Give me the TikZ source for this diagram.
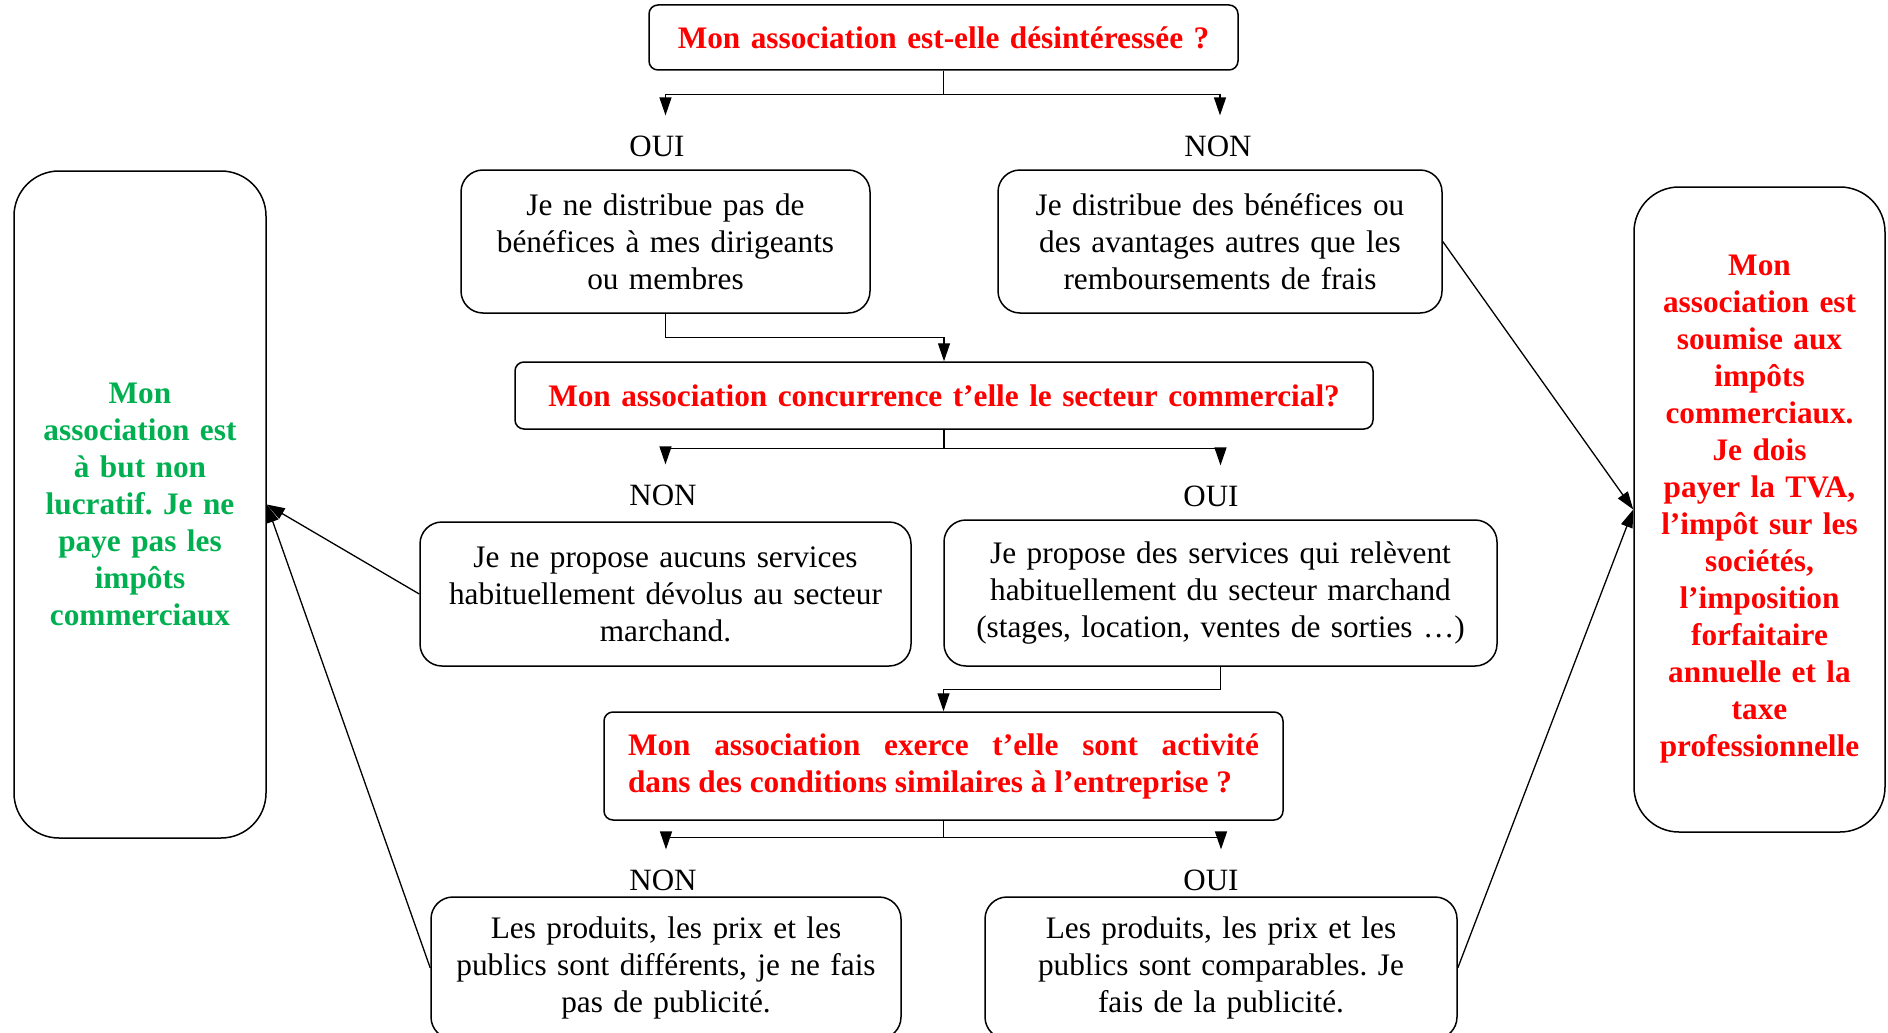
\documentclass[tikz,border=0pt]{standalone}
\usepackage{fontspec}
\setmainfont{Liberation Serif}
\usetikzlibrary{arrows.meta}
\definecolor{qred}{RGB}{255,0,0}
\definecolor{okgreen}{RGB}{0,176,80}
\frenchspacing

\begin{document}
\begin{tikzpicture}[>={Triangle[width=12pt,length=18pt]}, x=1pt, y=-1pt,
    box/.style={draw, line width=1.5pt, rounded corners=22pt, inner sep=0pt, align=center,
        font=\fontsize{31.3}{37}\selectfont},
    qbox/.style={box, rounded corners=9pt, text=qred, font=\fontsize{31.3}{37}\selectfont\bfseries},
    side/.style={box, rounded corners=45pt, font=\fontsize{31.3}{37}\selectfont\bfseries},
    lbl/.style={inner xsep=0pt, inner ysep=20pt, font=\fontsize{31}{37}\selectfont},
    link/.style={->, line width=1.3pt}]
    \useasboundingbox (0,0) rectangle (1888,1033);
    \clip (0,0) rectangle (1888,1033);

    % questions
    \node[qbox, text width=589pt, minimum height=65pt] (q1) at (943.5,37.5)
        {Mon association est-elle désintéressée ?};
    \node[qbox, text width=858pt, minimum height=67pt] (q2) at (944,395.5)
        {Mon association concurrence t’elle le secteur commercial?};
    \node[qbox, align=justify, text width=631pt, minimum width=679pt, minimum height=108pt] (q3) at (943.5,766)
        {Mon association exerce t’elle sont activité\linebreak dans des conditions similaires à l’entreprise ?};

    % answers
    \node[box, text width=409pt, minimum height=143pt] (a1) at (665.5,241.5)
        {Je ne distribue pas de\\bénéfices à mes dirigeants\\ou membres};
    \node[box, text width=444pt, minimum height=143pt] (b1) at (1220,241.5)
        {Je distribue des bénéfices ou\\des avantages autres que les\\remboursements de frais};
    \node[box, text width=491pt, minimum height=144pt] (d) at (665.5,594)
        {Je ne propose aucuns services\\habituellement dévolus au secteur\\marchand.};
    \node[box, text width=553pt, minimum height=146pt] (e) at (1220.5,593)
        {Je propose des services qui relèvent\\habituellement du secteur marchand\\(stages, location, ventes de sorties …)};
    \node[box, text width=470pt, minimum height=142pt] (g) at (666,968)
        {Les produits, les prix et les\\publics sont différents, je ne fais\\pas de publicité.};
    \node[box, text width=472pt, minimum height=142pt] (h) at (1221,968)
        {Les produits, les prix et les\\publics sont comparables. Je\\fais de la publicité.};

    % conclusions
    \node[side, text=okgreen, text width=252pt, minimum height=667pt] (L) at (140,504.5)
        {Mon\\association est\\à but non\\lucratif. Je ne\\paye pas les\\impôts\\commerciaux};
    \node[side, text=qred, text width=251pt, minimum height=645pt] (R) at (1759.5,509.5)
        {Mon\\association est\\soumise aux\\impôts\\commerciaux.\\Je dois\\payer la TVA,\\l’impôt sur les\\sociétés,\\l’imposition\\forfaitaire\\annuelle et la\\taxe\\professionnelle};

    % labels
    \node[lbl] (oui1) at (657,146) {OUI};
    \node[lbl] (non1) at (1218,146) {NON};
    \node[lbl] (non2) at (663,495) {NON};
    \node[lbl] (oui2) at (1211,496) {OUI};
    \node[lbl] (non3) at (663,880) {NON};
    \node[lbl] (oui3) at (1211,880) {OUI};

    % tree
    \draw[link] (q1.south) -- ++(0,24) -| (a1 |- oui1.north);
    \draw[link] (q1.south) -- ++(0,24) -| (b1 |- non1.north);
    \draw[link] (a1.south) -- ++(0,24) -| (q2.north);
    \draw[link] (q2.south) -- ++(0,19) -| (d |- non2.north);
    \draw[link] (q2.south) -- ++(0,19) -| (e |- oui2.north);
    \draw[link] (e.south) -- ++(0,23) -| (q3.north);
    \draw[link] (q3.south) -- ++(0,17) -| (g |- non3.north);
    \draw[link] (q3.south) -- ++(0,17) -| (h |- oui3.north);

    % to the conclusions
    \draw[link] (b1.east) -- (R.west);
    \draw[link] (h.east) -- (R.west);
    \draw[link] (d.west) -- (L.east);
    \draw[link] (g.west) -- (L.east);
\end{tikzpicture}
\end{document}
